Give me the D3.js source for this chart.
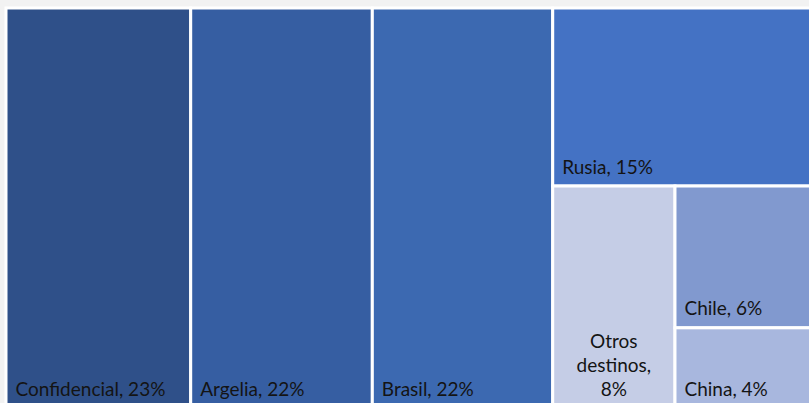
<!DOCTYPE html>
<html><head><meta charset="utf-8">
<script src="https://cdn.jsdelivr.net/npm/d3@7"></script>
<style>html,body{margin:0;padding:0;background:#f2f2f2;overflow:hidden}</style>
</head>
<body>
<svg id="chart" width="809" height="403"></svg>
<script>
// Data (shares in %, labels show rounded values)
const categories = ["Confidencial", "Argelia", "Brasil", "Rusia", "Otros destinos", "Chile", "China"];
const shares = [22.76, 22.38, 22.23, 14.53, 8.37, 6.24, 3.55];
const colors = ["#2f5089", "#365ea2", "#3c69b1", "#4472c4", "#c5cde6", "#8199cf", "#a8b7de"];
// nesting groups used by the slice-and-dice layout
const groupPath = [[], [], [], ["g1"], ["g1", "g2"], ["g1", "g2", "g3"], ["g1", "g2", "g3"]];

const rootData = {name: "root", children: []};
categories.forEach((c, i) => {
  let parent = rootData;
  groupPath[i].forEach(g => {
    let child = parent.children.find(d => d.name === g);
    if (!child) { child = {name: g, children: []}; parent.children.push(child); }
    parent = child;
  });
  parent.children.push({name: c, value: shares[i], color: colors[i]});
});

const root = d3.hierarchy(rootData).sum(d => d.value || 0);
d3.treemap().tile(d3.treemapSliceDice).size([812, 400.5])(root);

const svg = d3.select("#chart");
svg.append("rect").attr("width", 809).attr("height", 403).attr("fill", "#f2f2f2");
const g = svg.append("g").attr("transform", "translate(6,8)");

const leaves = g.selectAll("g.leaf").data(root.leaves()).join("g").attr("class", "leaf");
leaves.append("rect")
  .attr("x", d => d.x0).attr("y", d => d.y0)
  .attr("width", d => d.x1 - d.x0).attr("height", d => d.y1 - d.y0)
  .attr("fill", d => d.data.color)
  .attr("stroke", "#ffffff").attr("stroke-width", 3);

const fontSize = 19, lineH = 24, padX = 9.5, padB = 12.5;
leaves.each(function(d) {
  const label = d.data.name + ", " + Math.round(d.value) + "%";
  const sel = d3.select(this);
  const t = sel.append("text")
    .attr("font-family", "Lato, 'Open Sans', sans-serif")
    .attr("font-size", fontSize).attr("fill", "#141414");
  const avail = (d.x1 - d.x0) - 2 * padX;
  const words = label.split(" ");
  const lines = [];
  let cur = "";
  const probe = t.append("tspan");
  words.forEach(w => {
    const test = cur ? cur + " " + w : w;
    probe.text(test);
    if (probe.node().getComputedTextLength() > avail && cur) { lines.push(cur); cur = w; }
    else cur = test;
  });
  lines.push(cur);
  probe.remove();
  const wrapped = lines.length > 1;
  const x = wrapped ? (d.x0 + d.x1) / 2 : d.x0 + padX;
  t.attr("text-anchor", wrapped ? "middle" : "start");
  const baseY = d.y1 - padB - (lines.length - 1) * lineH;
  lines.forEach((ln, i) => {
    t.append("tspan").attr("x", x).attr("y", baseY + i * lineH).text(ln);
  });
});
</script>
</body></html>
